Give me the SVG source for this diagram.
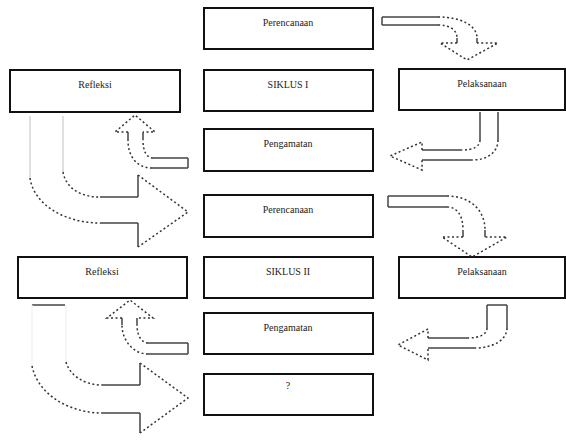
<svg xmlns="http://www.w3.org/2000/svg" width="566" height="440" viewBox="0 0 566 440">
<style>
.box{fill:#fff;stroke:#111;stroke-width:2}
.lbl{font-family:"Liberation Serif",serif;font-size:10px;fill:#222;text-anchor:middle}
.sol{fill:none;stroke:#444;stroke-width:1.5}
.faint{fill:none;stroke:#ccc;stroke-width:1.2}
.ghost{fill:none;stroke:#f0f0f0;stroke-width:1.2}
.dot{fill:none;stroke:#333;stroke-width:1.5;stroke-dasharray:2 2.5}
</style>
<rect width="566" height="440" fill="#fff"/>
<g id="perencanaan1"><rect class="box" x="204" y="8" width="169" height="41"/><text class="lbl" x="288" y="26">Perencanaan</text></g>
<g id="siklus1"><rect class="box" x="204" y="70" width="169" height="41"/><text class="lbl" x="288" y="88">SIKLUS I</text></g>
<g id="pelaksanaan1"><rect class="box" x="399" y="69" width="166" height="41"/><text class="lbl" x="482" y="87">Pelaksanaan</text></g>
<g id="refleksi1"><rect class="box" x="10" y="70" width="170" height="42"/><text class="lbl" x="95" y="88">Refleksi</text></g>
<g id="pengamatan1"><rect class="box" x="204" y="129" width="169" height="42"/><text class="lbl" x="288" y="147">Pengamatan</text></g>
<g id="perencanaan2"><rect class="box" x="204" y="195" width="169" height="42"/><text class="lbl" x="288" y="213">Perencanaan</text></g>
<g id="refleksi2"><rect class="box" x="18" y="257" width="169" height="41"/><text class="lbl" x="102" y="275">Refleksi</text></g>
<g id="siklus2"><rect class="box" x="204" y="257" width="169" height="41"/><text class="lbl" x="288" y="275">SIKLUS II</text></g>
<g id="pelaksanaan2"><rect class="box" x="399" y="257" width="166" height="41"/><text class="lbl" x="482" y="275">Pelaksanaan</text></g>
<g id="pengamatan2"><rect class="box" x="204" y="313" width="169" height="41"/><text class="lbl" x="288" y="331">Pengamatan</text></g>
<g id="lanjut"><rect class="box" x="204" y="374" width="169" height="41"/><text class="lbl" x="288" y="389">?</text></g>
<g id="connectors">
<path class="sol" d="M382,17 H438 M382,25 H438 M382,17 V25 M457,38 V43 M477,38 V43"/>
<path class="dot" d="M438,17 C462,17 477,26 477,38 M438,25 C450,25 457,30 457,38 M457,43 H440 L467,60 L498,43 H477"/>
<path class="sol" d="M480,112 V140 M498,112 V140 M422,150 H462 M422,160 H472"/>
<path class="dot" d="M480,140 C480,146 474,150 462,150 M498,140 C498,152 488,160 472,160 M422,150 V142 L390,156 L422,170 V160"/>
<path class="sol" d="M188,158 V168 M188,158 H153 M188,168 H152 M128,132 V140 M143,132 V140"/>
<path class="dot" d="M153,158 C147,158 143,152 143,140 M152,168 C138,168 128,158 128,140 M128,132 H115 L135,115 L155,132 H143"/>
<path class="faint" d="M30,116 V178 M63,116 V172"/>
<path class="sol" d="M100,223 H138 M100,197 H138 M138,197 V175 M138,223 V247"/>
<path class="dot" d="M30,178 C34,205 65,223 100,223 M63,172 C66,188 80,197 100,197 M138,175 L188,212 L138,247"/>
<path class="sol" d="M388,196 V207 M388,196 H447 M388,207 H447 M463,230 V237 M485,230 V237"/>
<path class="dot" d="M447,196 C470,196 485,210 485,230 M447,207 C457,207 463,215 463,230 M463,237 H442 L472,257 L507,237 H485"/>
<path class="sol" d="M487,305 H507 M487,305 V328 M507,305 V328 M428,338 H468 M428,348 H475"/>
<path class="dot" d="M487,328 C487,334 480,338 468,338 M507,328 C507,340 493,348 475,348 M428,338 V329 L398,345 L428,360 V348"/>
<path class="sol" d="M188,343 V354 M188,343 H148 M188,354 H148 M122,318 V325 M137,318 V325"/>
<path class="dot" d="M148,343 C142,343 137,336 137,325 M148,354 C133,354 122,340 122,325 M122,318 H107 L130,300 L153,318 H137"/>
<path class="sol" d="M32,305 H65"/>
<path class="ghost" d="M32,305 V366 M66,305 V362"/>
<path class="sol" d="M102,413 H140 M102,385 H140 M140,385 V363 M140,413 V433"/>
<path class="dot" d="M32,366 C38,395 70,413 102,413 M66,362 C70,376 85,385 102,385 M140,363 L188,398 L140,433"/>
</g>
</svg>
